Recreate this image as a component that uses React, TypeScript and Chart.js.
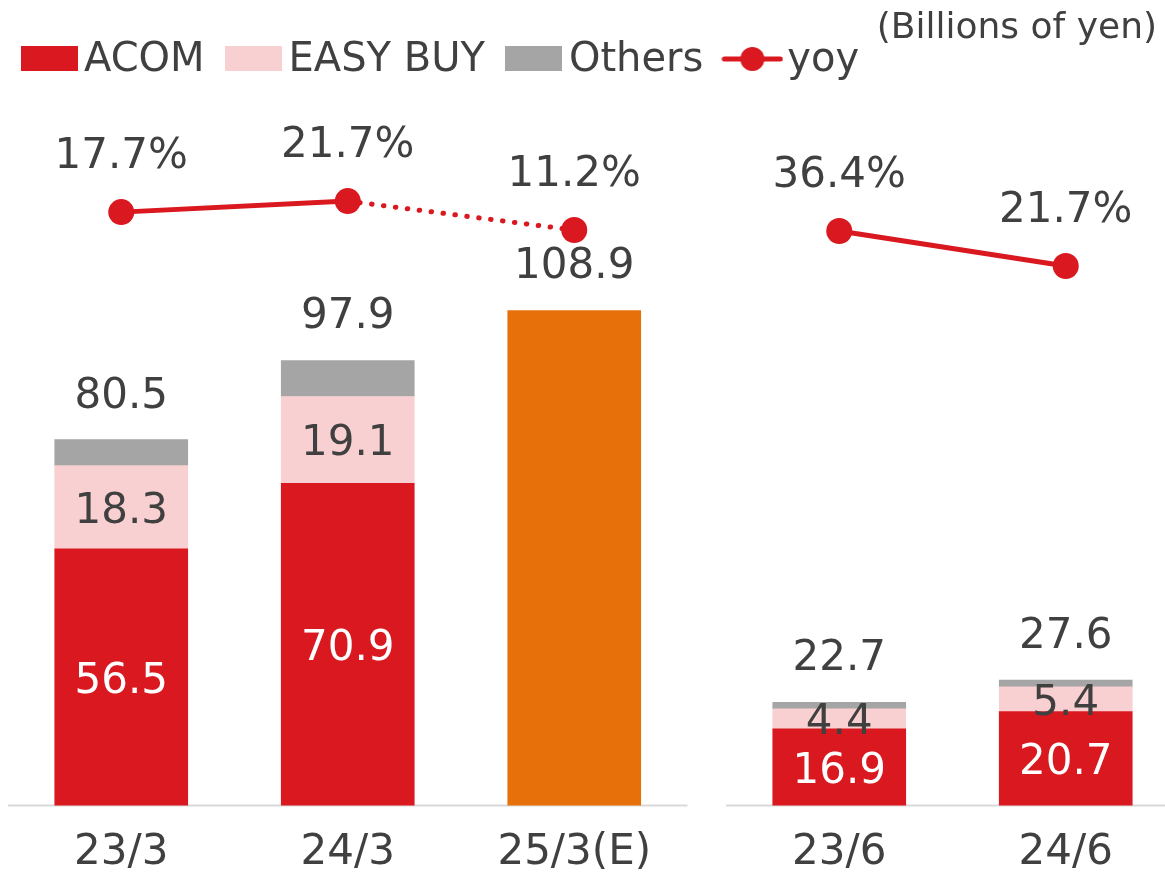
import React, { useEffect, useRef } from 'react';
import { Chart, registerables } from 'chart.js';

Chart.register(...registerables);

// ---- data ----
const categories = ['23/3', '24/3', '25/3(E)', '23/6', '24/6'];
const acom = [56.5, 70.9, null, 16.9, 20.7];
const easyBuy = [18.3, 19.1, null, 4.4, 5.4];
const others = [5.7, 7.9, null, 1.4, 1.5];
const forecast = [null, null, 108.9, null, null];
const totals = [80.5, 97.9, 108.9, 22.7, 27.6];
const yoy = [17.7, 21.7, 11.2, 36.4, 21.7];
const annualCount = 3; // first three categories are fiscal years, the rest are quarters

// ---- layout / style ----
const GROUP_GAP = 0.17;
const xPos = (i: number) => i + (i >= annualCount ? GROUP_GAP : 0);
const FONT = '"DejaVu Sans", Verdana, sans-serif';
const TEXT = '#404040';
const RED = '#D9181F';
const PINK = '#F9D0D1';
const GREY = '#A5A5A5';
const ORANGE = '#E8700B';

function makeBoxImage(color: string) {
  const c = document.createElement('canvas');
  c.width = 57;
  c.height = 30;
  const g = c.getContext('2d')!;
  g.fillStyle = color;
  g.fillRect(0, 0, 57, 25);
  return c;
}

function makeLineImage(color: string) {
  const c = document.createElement('canvas');
  c.width = 62;
  c.height = 30;
  const g = c.getContext('2d')!;
  g.strokeStyle = color;
  g.lineWidth = 5;
  g.lineCap = 'round';
  g.beginPath();
  g.moveTo(3, 13);
  g.lineTo(59, 13);
  g.stroke();
  g.fillStyle = color;
  g.beginPath();
  g.arc(31, 13, 12, 0, Math.PI * 2);
  g.fill();
  return c;
}

const decorPlugin = {
  id: 'decor',
  beforeDatasetsDraw(chart: any) {
    const { ctx, scales } = chart;
    const x = scales.x;
    const yb = scales.y.getPixelForValue(0);
    ctx.save();
    ctx.strokeStyle = '#D9D9D9';
    ctx.lineWidth = 2;
    ctx.beginPath();
    ctx.moveTo(x.getPixelForValue(-0.5), yb);
    ctx.lineTo(x.getPixelForValue(annualCount - 0.5), yb);
    ctx.moveTo(x.getPixelForValue(annualCount - 0.5 + GROUP_GAP), yb);
    ctx.lineTo(chart.width, yb);
    ctx.stroke();
    ctx.restore();
  },
  afterDatasetsDraw(chart: any) {
    const { ctx, scales } = chart;
    ctx.save();
    ctx.font = `42px ${FONT}`;
    ctx.textAlign = 'center';
    ctx.textBaseline = 'middle';
    // segment labels (ACOM white, EASY BUY dark)
    [0, 1].forEach((di) => {
      const meta = chart.getDatasetMeta(di);
      const vals = di === 0 ? acom : easyBuy;
      meta.data.forEach((el: any, i: number) => {
        const v = vals[i];
        if (v == null) return;
        ctx.fillStyle = di === 0 ? '#FFFFFF' : TEXT;
        ctx.fillText(v.toFixed(1), el.x, (el.y + el.base) / 2 + 4.5);
      });
    });
    // totals
    ctx.fillStyle = TEXT;
    totals.forEach((t, i) => {
      ctx.fillText(t.toFixed(1), scales.x.getPixelForValue(xPos(i)), scales.y.getPixelForValue(t) - 43);
    });
    // yoy labels
    [4, 5].forEach((di) => {
      const meta = chart.getDatasetMeta(di);
      const ds = chart.data.datasets[di];
      meta.data.forEach((el: any, i: number) => {
        const v = ds.data[i].y;
        ctx.fillText(v.toFixed(1) + '%', el.x, el.y - 55);
      });
    });
    ctx.restore();
  },
};

export default function App() {
  const ref = useRef<HTMLCanvasElement | null>(null);

  useEffect(() => {
    if (!ref.current) return;
    const legendImages = [makeBoxImage(RED), makeBoxImage(PINK), makeBoxImage(GREY), makeLineImage(RED)];
    const legendNames = ['ACOM', 'EASY BUY', 'Others', 'yoy'];

    const barData = (vals: (number | null)[]) => categories.map((_, i) => ({ x: xPos(i), y: vals[i] }));
    const annualYoy = yoy.slice(0, annualCount).map((v, i) => ({ x: xPos(i), y: v }));
    const quarterYoy = yoy.slice(annualCount).map((v, k) => ({ x: xPos(k + annualCount), y: v }));

    const chart = new Chart(ref.current, {
      type: 'bar',
      data: {
        datasets: [
          { label: 'ACOM', data: barData(acom), backgroundColor: RED, order: 1, stack: 's' },
          { label: 'EASY BUY', data: barData(easyBuy), backgroundColor: PINK, order: 1, stack: 's' },
          { label: 'Others', data: barData(others), backgroundColor: GREY, order: 1, stack: 's' },
          { label: 'Forecast', data: barData(forecast), backgroundColor: ORANGE, order: 1, stack: 's' },
          {
            type: 'line',
            label: 'yoy',
            data: annualYoy,
            yAxisID: 'y2',
            borderColor: RED,
            backgroundColor: RED,
            borderWidth: 5,
            borderCapStyle: 'round',
            pointRadius: 13,
            pointHoverRadius: 13,
            pointBorderWidth: 0,
            pointBackgroundColor: RED,
            tension: 0,
            fill: false,
            order: 0,
            segment: {
              borderDash: (c: any) => (c.p0DataIndex === annualCount - 2 ? [0.5, 11.5] : undefined),
            },
          } as any,
          {
            type: 'line',
            label: 'yoy (quarter)',
            data: quarterYoy,
            yAxisID: 'y3',
            borderColor: RED,
            backgroundColor: RED,
            borderWidth: 5,
            pointRadius: 13,
            pointHoverRadius: 13,
            pointBorderWidth: 0,
            pointBackgroundColor: RED,
            tension: 0,
            fill: false,
            order: 0,
          } as any,
        ],
      },
      options: {
        responsive: false,
        animation: false,
        events: [],
        layout: { autoPadding: false, padding: { left: 0, right: 8, top: 0, bottom: 0 } },
        datasets: { bar: { barThickness: 133, borderWidth: 0 } } as any,
        scales: {
          x: {
            type: 'linear',
            offset: false,
            min: -0.5353,
            max: 4.5729,
            stacked: true,
            grid: { display: false, drawTicks: false, offset: false },
            border: { display: false },
            afterBuildTicks: (s: any) => {
              s.ticks = categories.map((_, i) => ({ value: xPos(i) }));
            },
            afterFit: (s: any) => {
              s.paddingLeft = 0;
              s.paddingRight = 0;
            },
            ticks: {
              autoSkip: false,
              maxRotation: 0,
              padding: 22,
              color: TEXT,
              font: { family: FONT, size: 42 },
              callback: (_v: any, i: number) => categories[i],
            },
          },
          y: { display: false, stacked: true, min: 0, max: 157.2 },
          y2: { display: false, min: -197.4, max: 61.6 },
          y3: { display: false, min: -204.9, max: 95.2 },
        },
        plugins: {
          tooltip: { enabled: false },
          title: {
            display: true,
            text: '(Billions of yen)',
            align: 'end',
            color: TEXT,
            font: { family: FONT, size: 36, weight: 'normal', lineHeight: '10px' },
            padding: { top: 24, bottom: -27 },
          },
          legend: {
            display: true,
            position: 'top',
            align: 'start',
            labels: {
              usePointStyle: true,
              pointStyleWidth: 30,
              padding: 34,
              color: TEXT,
              font: { family: FONT, size: 40 },
              generateLabels: () =>
                legendNames.map((name, i) => ({
                  text: name,
                  pointStyle: legendImages[i],
                  fillStyle: 'transparent',
                  strokeStyle: 'transparent',
                  lineWidth: 0,
                  hidden: false,
                  datasetIndex: i,
                  fontColor: TEXT,
                })),
            },
          },
        },
      } as any,
      plugins: [decorPlugin],
    });
    return () => chart.destroy();
  }, []);

  return (
    <div
      style={{
        position: 'fixed',
        left: 0,
        top: 0,
        width: 1165,
        height: 878,
        overflow: 'hidden',
        background: '#FFFFFF',
      }}
    >
      <canvas ref={ref} width={1165} height={900} style={{ display: 'block' }} />
    </div>
  );
}
